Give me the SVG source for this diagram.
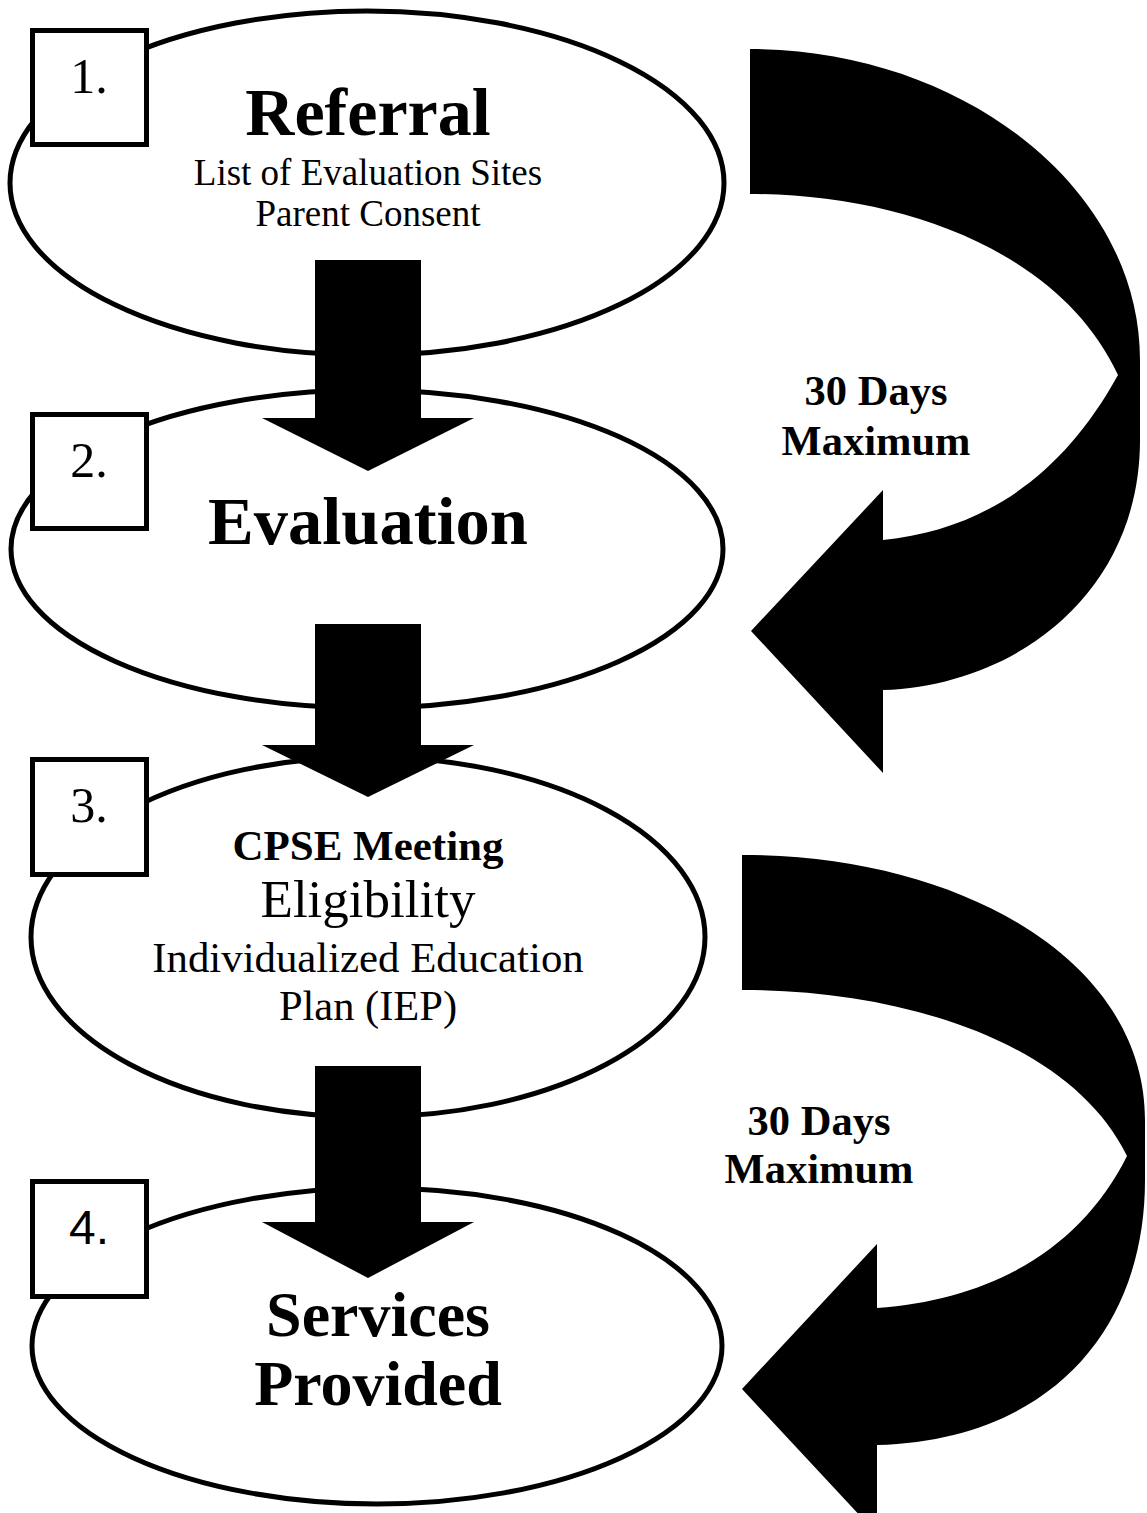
<svg xmlns="http://www.w3.org/2000/svg" width="1147" height="1513" viewBox="0 0 1147 1513">
<style>
.ell{fill:#fff;stroke:#000;stroke-width:5}
.box{fill:#fff;stroke:#000;stroke-width:5}
.num{font-family:"Liberation Serif","Times New Roman",serif;font-size:50px;text-anchor:middle;fill:#000}
.numsans{font-family:"Liberation Sans",Arial,sans-serif;font-size:48px;text-anchor:middle;fill:#000}
.t{font-family:"Liberation Serif","Times New Roman",serif;text-anchor:middle;fill:#000}
.b{font-weight:bold}
.arr{fill:#000;stroke:none}
</style>
<rect width="1147" height="1513" fill="#fff"/>
<g id="node1">
<ellipse class="ell" cx="367" cy="183" rx="357" ry="172"/>
<rect class="box" x="32.5" y="30.5" width="114" height="114"/>
<text class="num" x="89" y="93">1.</text>
<text class="t b" x="368" y="135" font-size="68">Referral</text>
<text class="t" x="368" y="185" font-size="37">List of Evaluation Sites</text>
<text class="t" x="368" y="226" font-size="37">Parent Consent</text>
</g>
<g id="node2">
<ellipse class="ell" cx="367" cy="549" rx="356" ry="159"/>
<rect class="box" x="32.5" y="414.5" width="114" height="114"/>
<text class="num" x="89" y="477">2.</text>
<text class="t b" x="368" y="544" font-size="68.5">Evaluation</text>
</g>
<g id="node3">
<ellipse class="ell" cx="368" cy="937" rx="337" ry="180"/>
<rect class="box" x="32.5" y="759.5" width="114" height="115"/>
<text class="num" x="89" y="822">3.</text>
<text class="t b" x="368" y="860" font-size="43">CPSE Meeting</text>
<text class="t" x="368" y="917" font-size="53">Eligibility</text>
<text class="t" x="368" y="972" font-size="42.8">Individualized Education</text>
<text class="t" x="368" y="1020" font-size="42.5">Plan (IEP)</text>
</g>
<g id="node4">
<ellipse class="ell" cx="377" cy="1346" rx="345" ry="158"/>
<rect class="box" x="32.5" y="1181.5" width="114" height="115"/>
<text class="numsans" x="89" y="1244">4.</text>
<text class="t b" x="378" y="1336" font-size="64">Services</text>
<text class="t b" x="378" y="1405" font-size="64">Provided</text>
</g>
<g id="connectors">
<path class="arr" d="M315,260 H421 V418 H474 L368,471 L262,418 H315 Z"/>
<path class="arr" d="M315,624 H421 V745 H474 L368,797 L262,745 H315 Z"/>
<path class="arr" d="M315,1066 H421 V1222 H474 L368,1278 L262,1222 H315 Z"/>
<path class="arr" d="M750,49 C962,49 1140,188 1140,360 L1140,440 C1140,590 1020,685 883,690 L883,773 L751,631 L883,490 L883,540 C980,530 1060,480 1118,375 C1060,250 900,194 750,194 Z"/>
<path class="arr" d="M742,855 C960,855 1145,960 1145,1120 L1145,1180 C1145,1330 1050,1440 877,1445 L877,1534 L742,1389 L877,1244 L877,1308 C990,1300 1080,1250 1127,1156 C1070,1040 900,990 742,990 Z"/>
<text class="t b" x="876" y="405" font-size="42.5">30 Days</text>
<text class="t b" x="876" y="455" font-size="42.5">Maximum</text>
<text class="t b" x="819" y="1135" font-size="42.5">30 Days</text>
<text class="t b" x="819" y="1183" font-size="42.5">Maximum</text>
</g>
</svg>
